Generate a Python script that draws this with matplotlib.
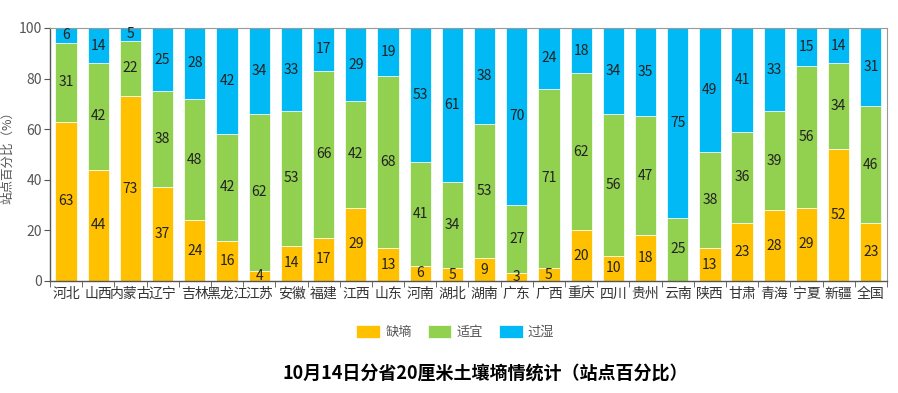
import matplotlib
matplotlib.use("Agg")
import matplotlib.pyplot as plt
import numpy as np

plt.rcParams['font.family'] = ['Noto Sans CJK SC', 'DejaVu Sans']

categories = ["河北", "山西", "内蒙古", "辽宁", "吉林", "黑龙江", "江苏", "安徽", "福建", "江西",
              "山东", "河南", "湖北", "湖南", "广东", "广西", "重庆", "四川", "贵州", "云南",
              "陕西", "甘肃", "青海", "宁夏", "新疆", "全国"]
dry = [63, 44, 73, 37, 24, 16, 4, 14, 17, 29, 13, 6, 5, 9, 3, 5, 20, 10, 18, 0, 13, 23, 28, 29, 52, 23]
suitable = [31, 42, 22, 38, 48, 42, 62, 53, 66, 42, 68, 41, 34, 53, 27, 71, 62, 56, 47, 25, 38, 36, 39, 56, 34, 46]
wet = [6, 14, 5, 25, 28, 42, 34, 33, 17, 29, 19, 53, 61, 38, 70, 24, 18, 34, 35, 75, 49, 41, 33, 15, 14, 31]
series_names = ["缺墒", "适宜", "过湿"]
colors = ["#FFC000", "#92D050", "#00B9F5"]
title = "10月14日分省20厘米土壤墒情统计（站点百分比）"

fig = plt.figure(figsize=(8.98, 3.93), dpi=100)
ax = fig.add_axes([0.0557, 0.285, 0.932, 0.644])

x = np.arange(len(categories))
bottom = np.zeros(len(categories))
w = 0.66
for vals, name, col in zip([dry, suitable, wet], series_names, colors):
    vals = np.array(vals, dtype=float)
    ax.bar(x, vals, w, bottom=bottom, color=col, label=name, edgecolor='white', linewidth=0.5)
    for xi, b, v in zip(x, bottom, vals):
        if v > 0:
            ax.text(xi, b + v / 2, f"{int(v)}", ha='center', va='center', fontsize=10, color='#222222')
    bottom += vals

ax.set_xlim(-0.5, len(categories) - 0.5)
ax.set_ylim(0, 100)
ax.set_yticks([0, 20, 40, 60, 80, 100])
ax.set_xticks(x)
ax.set_xticklabels(categories, fontsize=10, color='#333333')
ax.set_xticks(np.arange(-0.5, len(categories), 1), minor=True)
ax.tick_params(axis='x', which='major', length=0, pad=4)
ax.tick_params(axis='x', which='minor', length=4, color='#555555')
ax.tick_params(axis='y', labelsize=10, colors='#555555', length=4, pad=2)
ax.set_ylabel("站点百分比（%）", fontsize=9, color='#555555')
ax.yaxis.set_label_coords(-0.043, 0.5)
for s in ['top', 'right']:
    ax.spines[s].set_color('#999999')
    ax.spines[s].set_linewidth(0.8)
for s in ['left', 'bottom']:
    ax.spines[s].set_color('#555555')
    ax.spines[s].set_linewidth(1.0)

fig.legend(loc='center', bbox_to_anchor=(0.507, 0.155), ncol=3, frameon=False, fontsize=9.5,
           handlelength=1.8, handleheight=1.1, columnspacing=1.2, handletextpad=0.4,
           labelcolor='#555555')
fig.text(0.54, 0.05, title, ha='center', va='center', fontsize=13, fontweight='bold', color='black')

fig.savefig("out.png", dpi=100)
